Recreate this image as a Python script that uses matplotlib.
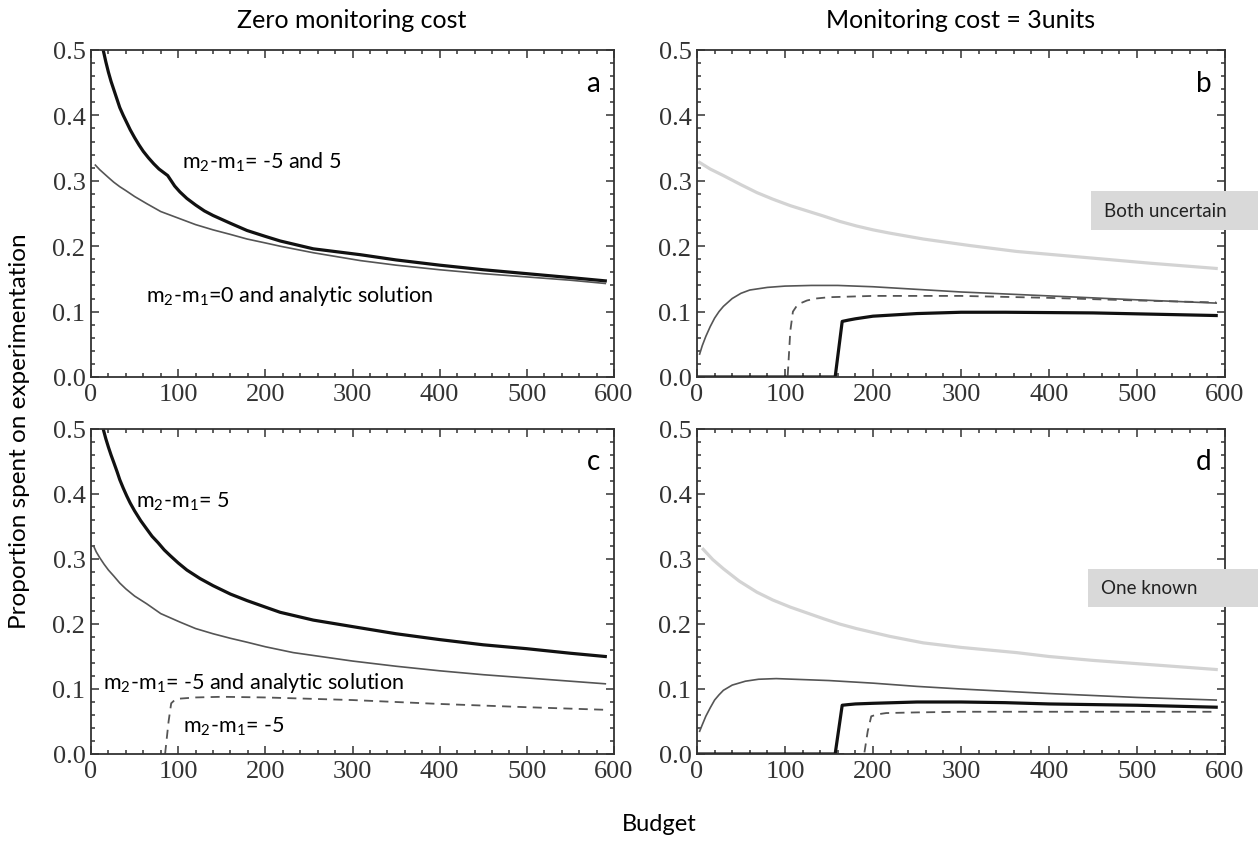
import numpy as np
import matplotlib
matplotlib.use("Agg")
import matplotlib.pyplot as plt
from matplotlib.ticker import MultipleLocator, FormatStrFormatter
from matplotlib.patches import Rectangle

plt.rcParams['font.family'] = ['Lato', 'DejaVu Sans']
plt.rcParams['mathtext.fontset'] = 'custom'
plt.rcParams['mathtext.rm'] = 'Lato'
plt.rcParams['mathtext.it'] = 'Lato'

# panel a: zero monitoring cost, both uncertain
a_thick_x = [14, 17, 20, 23, 26, 30, 33, 37, 41, 45, 50, 55, 60, 66, 72, 78, 83, 88, 92, 96, 102, 110, 120, 130, 140, 160, 179, 200, 217, 255, 309, 350, 400, 450, 500, 550, 590]
a_thick_y = [0.5, 0.482, 0.466, 0.452, 0.440, 0.424, 0.412, 0.400, 0.389, 0.378, 0.366, 0.355, 0.345, 0.335, 0.326, 0.318, 0.313, 0.308, 0.300, 0.292, 0.283, 0.273, 0.263, 0.254, 0.247, 0.235, 0.224, 0.215, 0.208, 0.196, 0.187, 0.179, 0.171, 0.164, 0.158, 0.152, 0.147]
a_thin_x = [5, 10, 15, 20, 26, 33, 40, 50, 64, 80, 102, 120, 140, 160, 179, 200, 217, 255, 309, 350, 400, 450, 500, 550, 590]
a_thin_y = [0.324, 0.317, 0.311, 0.305, 0.298, 0.291, 0.285, 0.276, 0.265, 0.253, 0.242, 0.233, 0.225, 0.218, 0.211, 0.205, 0.200, 0.190, 0.178, 0.171, 0.164, 0.158, 0.153, 0.148, 0.143]

# panel b: monitoring cost 3, both uncertain
b_light_x = [3, 15, 30, 50, 68, 86, 106, 125, 144, 162, 181, 200, 219, 257, 310, 363, 439, 515, 590]
b_light_y = [0.328, 0.318, 0.308, 0.294, 0.282, 0.272, 0.262, 0.254, 0.246, 0.238, 0.231, 0.225, 0.220, 0.211, 0.201, 0.192, 0.183, 0.174, 0.166]
b_thin_x = [3, 6, 10, 15, 20, 25, 30, 40, 50, 60, 70, 80, 100, 130, 160, 200, 250, 300, 400, 500, 590]
b_thin_y = [0.035, 0.048, 0.062, 0.077, 0.090, 0.100, 0.108, 0.120, 0.128, 0.133, 0.135, 0.137, 0.139, 0.140, 0.140, 0.138, 0.134, 0.130, 0.124, 0.118, 0.113]
b_dash_x = [0, 103, 106, 109, 113, 118, 125, 135, 150, 175, 200, 300, 400, 500, 590]
b_dash_y = [0.0, 0.0, 0.070, 0.100, 0.108, 0.113, 0.117, 0.120, 0.122, 0.123, 0.124, 0.124, 0.121, 0.117, 0.114]
b_thick_x = [0, 157, 165, 172, 180, 200, 225, 250, 300, 350, 450, 520, 590]
b_thick_y = [0.0, 0.0, 0.085, 0.087, 0.089, 0.093, 0.095, 0.097, 0.099, 0.099, 0.098, 0.096, 0.094]

# panel c: zero monitoring cost, one known
c_thick_x = [14, 17, 20, 23, 26, 30, 33, 37, 41, 45, 50, 57, 64, 70, 77, 84, 91, 100, 110, 125, 140, 160, 179, 200, 217, 255, 300, 350, 400, 450, 500, 550, 590]
c_thick_y = [0.5, 0.485, 0.472, 0.460, 0.449, 0.434, 0.422, 0.409, 0.397, 0.386, 0.374, 0.359, 0.346, 0.335, 0.325, 0.314, 0.305, 0.294, 0.283, 0.270, 0.259, 0.246, 0.236, 0.226, 0.218, 0.206, 0.196, 0.185, 0.176, 0.168, 0.162, 0.155, 0.150]
c_thin_x = [3, 6, 10, 15, 20, 26, 33, 40, 50, 64, 80, 102, 120, 140, 160, 179, 200, 232, 300, 350, 400, 450, 500, 550, 590]
c_thin_y = [0.320, 0.311, 0.302, 0.292, 0.283, 0.274, 0.263, 0.254, 0.243, 0.231, 0.216, 0.203, 0.193, 0.185, 0.178, 0.172, 0.165, 0.156, 0.143, 0.135, 0.128, 0.122, 0.117, 0.112, 0.108]
c_dash_x = [85, 89, 92, 96, 100, 110, 120, 150, 200, 300, 400, 500, 590]
c_dash_y = [0.0, 0.050, 0.078, 0.083, 0.085, 0.086, 0.087, 0.088, 0.087, 0.083, 0.077, 0.072, 0.068]

# panel d: monitoring cost 3, one known
d_light_x = [7, 18, 30, 48, 68, 86, 106, 125, 144, 162, 181, 200, 219, 257, 300, 363, 400, 450, 500, 550, 590]
d_light_y = [0.315, 0.299, 0.285, 0.266, 0.249, 0.237, 0.226, 0.217, 0.208, 0.200, 0.193, 0.187, 0.181, 0.171, 0.164, 0.156, 0.150, 0.144, 0.139, 0.134, 0.130]
d_thin_x = [3, 6, 10, 15, 20, 25, 30, 40, 55, 70, 90, 110, 150, 200, 250, 300, 400, 500, 590]
d_thin_y = [0.035, 0.045, 0.058, 0.071, 0.083, 0.091, 0.098, 0.106, 0.112, 0.115, 0.116, 0.115, 0.113, 0.109, 0.104, 0.100, 0.093, 0.087, 0.083]
d_thick_x = [0, 157, 165, 172, 180, 200, 250, 300, 350, 400, 500, 590]
d_thick_y = [0.0, 0.0, 0.075, 0.076, 0.077, 0.078, 0.080, 0.080, 0.079, 0.077, 0.075, 0.072]
d_dash_x = [0, 190, 194, 198, 205, 215, 250, 300, 400, 500, 590]
d_dash_y = [0.0, 0.0, 0.035, 0.058, 0.061, 0.063, 0.064, 0.065, 0.065, 0.065, 0.065]

fig = plt.figure(figsize=(12.58, 8.45), dpi=100)
W, H = 1258, 845

def make_ax(x0, y0, x1, y1):
    ax = fig.add_axes([x0 / W, 1 - y1 / H, (x1 - x0) / W, (y1 - y0) / H])
    ax.set_xlim(0, 600)
    ax.set_ylim(0, 0.5)
    ax.xaxis.set_major_locator(MultipleLocator(100))
    ax.xaxis.set_minor_locator(MultipleLocator(20))
    ax.yaxis.set_major_locator(MultipleLocator(0.1))
    ax.yaxis.set_minor_locator(MultipleLocator(0.02))
    ax.xaxis.set_major_formatter(FormatStrFormatter('%d'))
    ax.yaxis.set_major_formatter(FormatStrFormatter('%.1f'))
    ax.tick_params(which='both', direction='in', top=True, right=True, color='#333333', width=1.1)
    ax.tick_params(which='major', length=6)
    ax.tick_params(which='minor', length=3)
    ax.tick_params(labelsize=19, labelcolor='#333333', pad=4, labelfontfamily='Liberation Serif')
    for s in ax.spines.values():
        s.set_color('#333333')
        s.set_linewidth(1.3)
    return ax

ax_a = make_ax(91, 51, 614, 378)
ax_b = make_ax(697, 51, 1225, 378)
ax_c = make_ax(91, 430, 614, 755)
ax_d = make_ax(697, 430, 1225, 755)

thick = dict(color='#111111', lw=2.3)
thin = dict(color='#555555', lw=1.2)
light = dict(color='#d3d3d3', lw=2.3)
dash = dict(color='#555555', lw=1.3, ls=(0, (5, 3.5)))

ax_a.plot(a_thin_x, a_thin_y, **thin)
ax_a.plot(a_thick_x, a_thick_y, **thick)

ax_b.plot(b_light_x, b_light_y, **light)
ax_b.plot(b_thin_x, b_thin_y, **thin)
ax_b.plot(b_dash_x, b_dash_y, **dash)
ax_b.plot(b_thick_x, b_thick_y, **thick)

ax_c.plot(c_thin_x, c_thin_y, **thin)
ax_c.plot(c_thick_x, c_thick_y, **thick)
ax_c.plot(c_dash_x, c_dash_y, **dash)

ax_d.plot(d_light_x, d_light_y, **light)
ax_d.plot(d_thin_x, d_thin_y, **thin)
ax_d.plot(d_dash_x, d_dash_y, **dash)
ax_d.plot(d_thick_x, d_thick_y, **thick)

fs = 15.5
ax_a.text(104, 0.330, r'm$_2$-m$_1$= -5 and 5', fontsize=fs, va='center')
ax_a.text(63, 0.126, r'm$_2$-m$_1$=0 and analytic solution', fontsize=fs, va='center')
ax_c.text(52, 0.389, r'm$_2$-m$_1$= 5', fontsize=fs, va='center')
ax_c.text(14, 0.111, r'm$_2$-m$_1$= -5 and analytic solution', fontsize=fs, va='center')
ax_c.text(106, 0.043, r'm$_2$-m$_1$= -5', fontsize=fs, va='center')

for ax, letter in [(ax_a, 'a'), (ax_b, 'b'), (ax_c, 'c'), (ax_d, 'd')]:
    ax.text(576, 0.45, letter, fontsize=20, ha='center', va='center')

# grey label boxes on the right edge
for (x0, y0, x1, y1, label) in [(1091, 192, 1258, 231, 'Both uncertain'), (1088, 570, 1258, 608, 'One known')]:
    fig.patches.append(Rectangle((x0 / W, 1 - y1 / H), (x1 - x0) / W, (y1 - y0) / H,
                                 transform=fig.transFigure, facecolor='#d9d9d9', edgecolor='none', zorder=5))
    fig.text((x0 + 13) / W, 1 - (y0 + y1) / 2 / H, label, fontsize=13.5, va='center', ha='left', color='#222222', zorder=6)

fig.text(352 / W, 1 - 20 / H, 'Zero monitoring cost', fontsize=18, ha='center', va='center')
fig.text(961 / W, 1 - 20 / H, 'Monitoring cost = 3units', fontsize=18, ha='center', va='center')
fig.text(20 / W, 1 - 431 / H, 'Proportion spent on experimentation', fontsize=17.5, rotation=90, ha='center', va='center')
fig.text(659 / W, 1 - 825 / H, 'Budget', fontsize=17, ha='center', va='center')

fig.savefig('out.png', dpi=100)
